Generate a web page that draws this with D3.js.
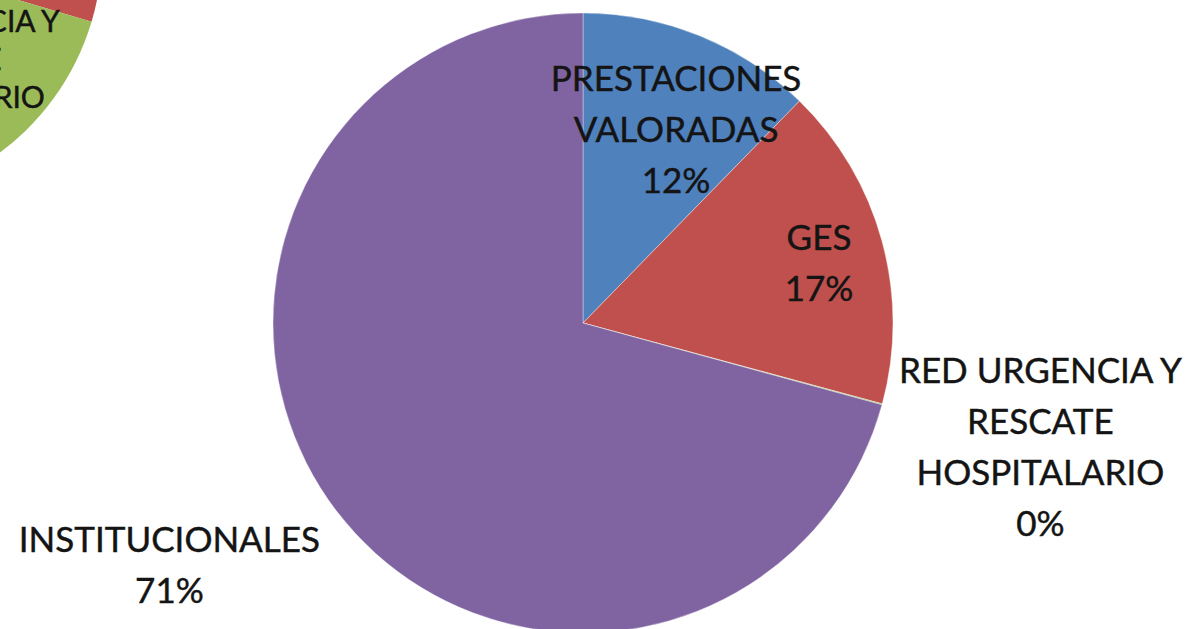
<!DOCTYPE html>
<html>
<head>
<meta charset="utf-8">
<script src="https://cdn.jsdelivr.net/npm/d3@7"></script>
<style>
  html, body { margin: 0; padding: 0; background: #fff; }
  svg { display: block; }
  text { font-family: Lato, "Open Sans", sans-serif; fill: #141414; stroke: #141414; stroke-width: 0.45px; }
</style>
</head>
<body>
<div id="chart"></div>
<script>
// categories and shares (%) of the main pie
var categories = [
  "PRESTACIONES VALORADAS",
  "GES",
  "RED URGENCIA Y RESCATE HOSPITALARIO",
  "INSTITUCIONALES"
];
var shares = [12.3, 16.9, 0.05, 70.75];

// label text broken in lines, as in the picture
var labelLines = [
  ["PRESTACIONES", "VALORADAS"],
  ["GES"],
  ["RED URGENCIA Y", "RESCATE", "HOSPITALARIO"],
  ["INSTITUCIONALES"]
];

// the cut-off neighbour pie in the top left corner (only part is seen)
var insetShares = [13, 16.6, 21.6, 48.8];

var colors = ["#4f81bd", "#c0504d", "#9bbb59", "#8064a2"];

var width = 1191, height = 629;
var fontSize = 35, lineGap = 51;

var svg = d3.select("#chart")
  .append("svg")
  .attr("width", width)
  .attr("height", height);

var pie = d3.pie().sort(null).value(function(d) { return d; });

function polar(cx, cy, r, a) {
  return [cx + r * Math.sin(a), cy - r * Math.cos(a)];
}

function drawLabel(g, x, y, lines, size, gap) {
  var capH = size * 0.72;
  var first = y - (lines.length - 1) / 2 * gap + capH / 2;
  var t = g.append("text")
    .attr("text-anchor", "middle")
    .style("font-size", size + "px");
  lines.forEach(function(line, i) {
    t.append("tspan")
      .attr("x", x)
      .attr("y", first + i * gap)
      .text(line);
  });
}

// ---- inset pie (partly off screen) ----
var inset = { cx: -150, cy: -50, r: 252 };
var insetArcs = pie(insetShares);
var gi = svg.append("g").attr("transform", "translate(" + inset.cx + "," + inset.cy + ")");
gi.selectAll("path")
  .data(insetArcs)
  .enter()
  .append("path")
  .attr("d", d3.arc().innerRadius(0).outerRadius(inset.r))
  .attr("fill", function(d, i) { return colors[i]; });

(function() {
  var a = insetArcs[2];
  var mid = (a.startAngle + a.endAngle) / 2;
  var p = polar(inset.cx, inset.cy, inset.r * 0.62, mid);
  drawLabel(svg, p[0], p[1],
    labelLines[2].concat([Math.round(insetShares[2]) + "%"]), 30, 38);
})();

// ---- main pie ----
var main = { cx: 583, cy: 323, r: 310 };
var arcs = pie(shares);

// label placement: radius factor and extra angle (degrees) from slice middle
var labelRadius = [0.694, 0.786, 1.529, 1.546];
var labelShift = [3.5, 0.9, 0, 7];

var g = svg.append("g").attr("transform", "translate(" + main.cx + "," + main.cy + ")");
g.selectAll("path")
  .data(arcs)
  .enter()
  .append("path")
  .attr("d", d3.arc().innerRadius(0).outerRadius(main.r))
  .attr("fill", function(d, i) { return colors[i]; })
  .attr("stroke", "rgba(255,255,255,0.45)")
  .attr("stroke-width", 0.8);

arcs.forEach(function(d, i) {
  var mid = (d.startAngle + d.endAngle) / 2 + labelShift[i] * Math.PI / 180;
  var p = polar(main.cx, main.cy, main.r * labelRadius[i], mid);
  drawLabel(svg, p[0], p[1],
    labelLines[i].concat([Math.round(shares[i]) + "%"]), fontSize, lineGap);
});
</script>
</body>
</html>
